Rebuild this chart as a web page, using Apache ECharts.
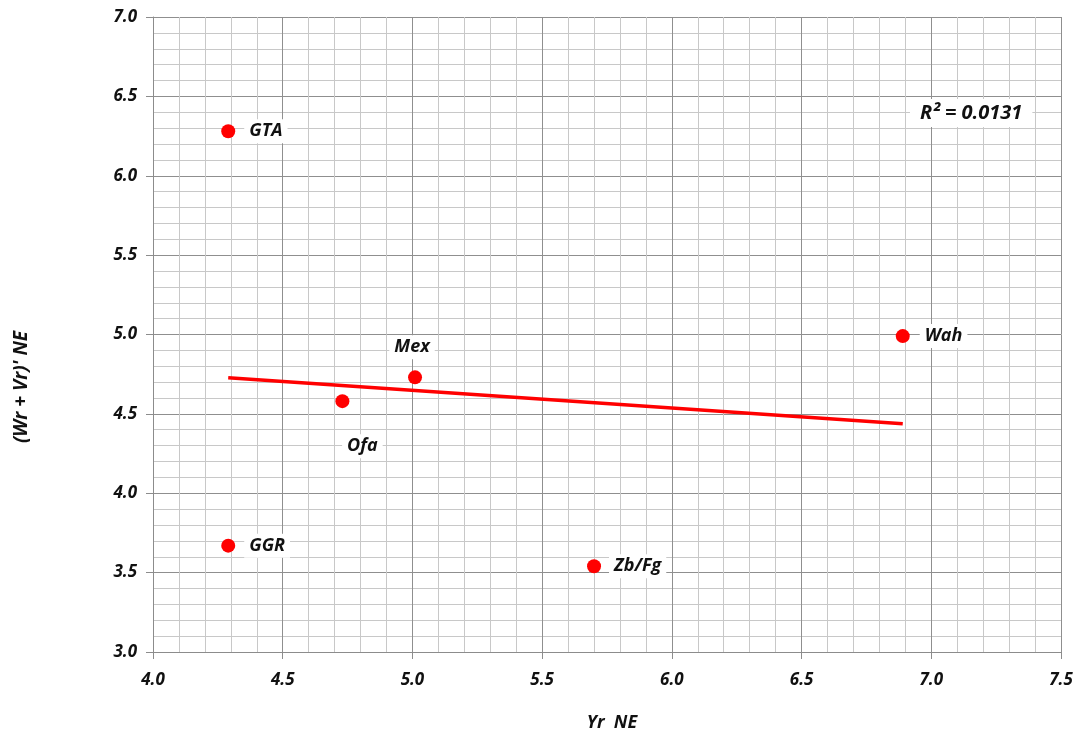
<!DOCTYPE html>
<html>
<head>
<meta charset="utf-8">
<style>
  html, body { margin: 0; padding: 0; background: #fff; overflow: hidden; }
  #chart { width: 1082px; height: 733px; }
</style>
<script src="https://cdn.jsdelivr.net/npm/echarts@6/dist/echarts.min.js"></script>
</head>
<body>
<div id="chart"></div>
<script>
// Site names and their (Yr NE, (Wr + Vr)' NE) values
const siteNames = ['GTA', 'GGR', 'Ofa', 'Mex', 'Zb/Fg', 'Wah'];
const yrValues = [4.29, 4.29, 4.73, 5.01, 5.70, 6.89];
const wrVrValues = [6.28, 3.67, 4.58, 4.73, 3.54, 4.99];
const rSquaredText = 'R² = 0.0131';
const xAxisTitle = 'Yr  NE';
const yAxisTitle = "(Wr + Vr)' NE";

const FONT = '"Open Sans", "Liberation Sans", sans-serif';
const TEXT_COLOR = '#111111';

// Least-squares linear trend across the sites
function linearFit(xs, ys) {
  const n = xs.length;
  const mx = xs.reduce((a, b) => a + b, 0) / n;
  const my = ys.reduce((a, b) => a + b, 0) / n;
  let sxy = 0, sxx = 0;
  for (let i = 0; i < n; i++) {
    sxy += (xs[i] - mx) * (ys[i] - my);
    sxx += (xs[i] - mx) * (xs[i] - mx);
  }
  const slope = sxy / sxx;
  return { slope, intercept: my - slope * mx };
}
const fit = linearFit(yrValues, wrVrValues);
const xMin = Math.min(...yrValues), xMax = Math.max(...yrValues);
const trendData = [
  [xMin, fit.intercept + fit.slope * xMin],
  [xMax, fit.intercept + fit.slope * xMax]
];

// Where each site's name sits relative to its dot
const labelPlacement = {
  'GTA':   { position: 'right', distance: 9 },
  'GGR':   { position: 'right', distance: 9 },
  'Ofa':   { position: 'bottom', distance: 26, offset: [20, 0] },
  'Mex':   { position: 'top', distance: 11, offset: [-3, 0] },
  'Zb/Fg': { position: 'right', distance: 8 },
  'Wah':   { position: 'right', distance: 10 }
};

const pointData = siteNames.map((name, i) => ({
  name,
  value: [yrValues[i], wrVrValues[i]],
  label: Object.assign({
    show: true,
    formatter: '{b}',
    color: TEXT_COLOR,
    fontFamily: FONT,
    fontSize: 18,
    fontWeight: 'bold',
    fontStyle: 'italic',
    backgroundColor: '#ffffff',
    padding: [3, 5]
  }, labelPlacement[name])
}));

const axisLabelStyle = {
  color: TEXT_COLOR,
  fontFamily: FONT,
  fontSize: 17,
  fontWeight: 'bold',
  fontStyle: 'italic',
  formatter: v => v.toFixed(1)
};

const chart = echarts.init(document.getElementById('chart'), null, { renderer: 'canvas' });
chart.setOption({
  animation: false,
  backgroundColor: '#fff',
  grid: { left: 153, right: 21, top: 17, bottom: 81, containLabel: false, outerBoundsMode: 'none' },
  xAxis: {
    type: 'value',
    min: 4.0, max: 7.5, interval: 0.5,
    name: xAxisTitle,
    nameLocation: 'middle',
    nameGap: 62,
    nameTextStyle: { color: TEXT_COLOR, fontFamily: FONT, fontSize: 18, fontWeight: 'bold', fontStyle: 'italic', padding: [0, 0, 0, 10] },
    axisLine: { show: true, lineStyle: { color: '#8c8c8c', width: 1 } },
    axisTick: { show: true, length: 7, lineStyle: { color: '#8c8c8c' } },
    minorTick: { show: false, splitNumber: 5 },
    axisLabel: Object.assign({ margin: 20 }, axisLabelStyle),
    splitLine: { show: true, lineStyle: { color: '#8f8f8f', width: 1 } },
    minorSplitLine: { show: true, lineStyle: { color: '#c8c8c8', width: 1 } }
  },
  yAxis: {
    type: 'value',
    min: 3.0, max: 7.0, interval: 0.5,
    axisLine: { show: true, lineStyle: { color: '#8c8c8c', width: 1 } },
    axisTick: { show: true, length: 7, lineStyle: { color: '#8c8c8c' } },
    minorTick: { show: false, splitNumber: 5 },
    axisLabel: Object.assign({ margin: 16 }, axisLabelStyle),
    splitLine: { show: true, lineStyle: { color: '#8f8f8f', width: 1 } },
    minorSplitLine: { show: true, lineStyle: { color: '#c8c8c8', width: 1 } }
  },
  series: [
    {
      type: 'line',
      data: trendData,
      showSymbol: false,
      symbol: 'none',
      lineStyle: { color: '#ff0000', width: 3.5 },
      z: 3
    },
    {
      type: 'scatter',
      data: pointData,
      symbol: 'circle',
      symbolSize: 14,
      itemStyle: { color: '#ff0000', opacity: 1 },
      z: 4
    }
  ],
  graphic: [
    {
      // Goodness-of-fit note for the trend line, on a white box
      type: 'text',
      x: 910,
      y: 113,
      z: 10,
      style: {
        text: rSquaredText,
        fill: TEXT_COLOR,
        fontFamily: FONT,
        fontSize: 20,
        fontWeight: 'bold',
        fontStyle: 'italic',
        verticalAlign: 'middle',
        align: 'left',
        backgroundColor: '#ffffff',
        padding: [4, 10]
      }
    },
    {
      // Vertical axis title, turned to read bottom-to-top
      type: 'text',
      x: 22,
      y: 387,
      rotation: Math.PI / 2,
      style: {
        text: yAxisTitle,
        fill: TEXT_COLOR,
        fontFamily: FONT,
        fontSize: 19,
        fontWeight: 'bold',
        fontStyle: 'italic',
        align: 'center',
        verticalAlign: 'middle'
      }
    }
  ]
});
</script>
</body>
</html>
